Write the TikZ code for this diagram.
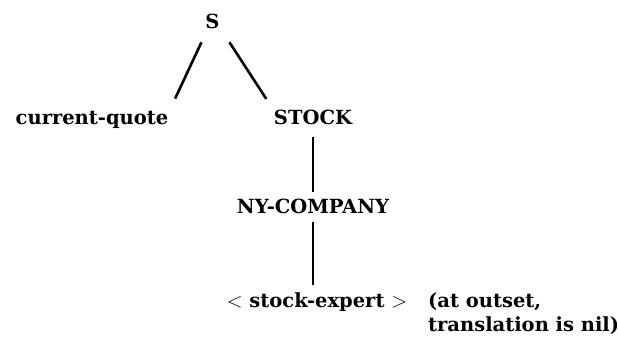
\documentclass[tikz,border=0pt]{standalone}
\usepackage{fontspec}
\setmainfont{DejaVu Serif}
\usetikzlibrary{positioning}

\begin{document}
\begin{tikzpicture}[x=1pt, y=-1pt,
	word/.style={font=\bfseries\fontsize{19.5}{24}\selectfont, inner sep=2pt, anchor=base},
	branch/.style={line width=2.6pt}]
	\useasboundingbox (0,0) rectangle (618,340);
	% the tree
	\node[word] (s) at (212.5,28) {S};
	\node[word] (quote) at (92,124) {current-quote};
	\node[word] (stock) at (313,124) {STOCK};
	\node[word] (nyco) at (313,213) {NY-COMPANY};
	\node[word] (expert) at (317,307) {$<$ stock-expert $>$};
	\node[word, align=left, anchor=north west] (note) at (426,290) {(at outset,\\translation is nil)};
	\draw[branch, shorten <=13pt, shorten >=11pt] (s.240) -- (quote.north east);
	\draw[branch, shorten <=14pt, shorten >=10pt] (s.south east) -- (stock.north west);
	\draw[branch, shorten <=4pt, shorten >=11pt] (nyco.north) -- (nyco.north |- stock.south);
	\draw[branch, shorten <=7pt, shorten >=5pt] (nyco.south) -- (nyco.south |- expert.north);
\end{tikzpicture}
\end{document}
